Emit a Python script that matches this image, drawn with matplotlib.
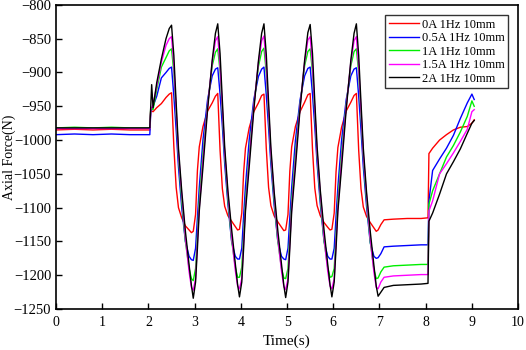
import matplotlib
matplotlib.use('Agg')
import matplotlib.pyplot as plt

plt.rcParams['font.family'] = ['Liberation Serif', 'DejaVu Serif']

# Time axis (s), shared by all five runs
time_s = [0.0, 0.4, 0.8, 1.2, 1.6, 2.03,
          2.05, 2.07, 2.10, 2.18, 2.28, 2.38, 2.45, 2.50,
          2.55, 2.60, 2.65, 2.72, 2.80, 2.88, 2.93, 2.97,
          3.02, 3.06, 3.10, 3.18, 3.28, 3.38, 3.45, 3.50,
          3.55, 3.60, 3.65, 3.72, 3.80, 3.88, 3.93, 3.97,
          4.02, 4.06, 4.10, 4.18, 4.28, 4.38, 4.45, 4.50,
          4.55, 4.60, 4.65, 4.72, 4.80, 4.88, 4.93, 4.97,
          5.02, 5.06, 5.10, 5.18, 5.28, 5.38, 5.45, 5.50,
          5.55, 5.60, 5.65, 5.72, 5.80, 5.88, 5.93, 5.97,
          6.02, 6.06, 6.10, 6.18, 6.28, 6.38, 6.45, 6.50,
          6.55, 6.60, 6.65, 6.72, 6.80, 6.88, 6.93, 6.97,
          7.03, 7.10, 7.30, 7.60, 7.90, 8.05,
          8.07, 8.15, 8.30, 8.45, 8.60, 8.75, 8.90, 9.00, 9.05]

# Axial force (N) for each current
force_0A = [-985, -984, -985, -984, -985, -985,
            -955, -957, -958, -952, -946, -937, -932, -930,
            -1010, -1070, -1100, -1115, -1127, -1133, -1137, -1135,
            -1110, -1045, -1010, -980, -957, -945, -935, -931,
            -1015, -1072, -1098, -1112, -1120, -1128, -1133, -1132,
            -1108, -1048, -1012, -982, -958, -945, -934, -932,
            -1012, -1070, -1097, -1112, -1121, -1129, -1134, -1133,
            -1110, -1046, -1010, -980, -958, -944, -933, -931,
            -1013, -1071, -1097, -1112, -1122, -1129, -1133, -1132,
            -1108, -1047, -1011, -981, -957, -944, -934, -931,
            -1015, -1072, -1099, -1113, -1122, -1130, -1135, -1133,
            -1125, -1118, -1117, -1116, -1116, -1115,
            -1020, -1012, -1000, -992, -985, -981, -980, -975, -970]

force_05A = [-992, -991, -992, -991, -992, -992,
             -958, -955, -950, -935, -908, -900, -894, -892,
             -935, -985, -1040, -1100, -1150, -1172, -1177, -1178,
             -1160, -1115, -1070, -1000, -940, -905, -895, -893,
             -932, -980, -1035, -1095, -1150, -1172, -1176, -1176,
             -1160, -1112, -1068, -1000, -940, -906, -895, -892,
             -933, -982, -1036, -1096, -1150, -1172, -1176, -1177,
             -1160, -1114, -1070, -1001, -941, -905, -894, -892,
             -932, -980, -1035, -1095, -1150, -1172, -1176, -1176,
             -1160, -1113, -1069, -1000, -940, -905, -895, -893,
             -935, -985, -1040, -1098, -1152, -1172, -1175, -1174,
             -1168, -1158, -1157, -1156, -1155, -1155,
             -1090, -1045, -1028, -1012, -993, -968, -945, -932, -940]

force_1A = [-982, -981, -982, -981, -982, -982,
            -952, -953, -955, -925, -892, -878, -868, -865,
            -900, -962, -1025, -1090, -1150, -1190, -1205, -1208,
            -1190, -1140, -1088, -1020, -948, -890, -870, -865,
            -898, -960, -1022, -1088, -1148, -1188, -1203, -1203,
            -1188, -1140, -1090, -1022, -948, -891, -869, -864,
            -900, -962, -1024, -1088, -1150, -1190, -1204, -1205,
            -1190, -1141, -1090, -1021, -948, -890, -869, -865,
            -899, -961, -1023, -1088, -1149, -1189, -1203, -1202,
            -1190, -1140, -1089, -1020, -947, -890, -869, -865,
            -900, -963, -1025, -1090, -1150, -1192, -1205, -1204,
            -1195, -1188, -1186, -1185, -1184, -1184,
            -1095, -1075, -1050, -1025, -1008, -988, -965, -942, -950]

force_15A = [-983, -983, -983, -983, -983, -983,
             -955, -952, -948, -920, -885, -860, -850, -847,
             -890, -955, -1020, -1080, -1145, -1195, -1218, -1222,
             -1205, -1150, -1100, -1030, -950, -885, -853, -847,
             -890, -953, -1018, -1080, -1143, -1193, -1216, -1220,
             -1205, -1150, -1100, -1030, -950, -886, -853, -846,
             -890, -955, -1020, -1080, -1145, -1194, -1217, -1221,
             -1205, -1151, -1100, -1031, -951, -885, -852, -847,
             -890, -954, -1019, -1080, -1144, -1194, -1216, -1220,
             -1205, -1150, -1100, -1030, -950, -885, -853, -847,
             -892, -956, -1021, -1082, -1146, -1196, -1218, -1220,
             -1210, -1203, -1201, -1200, -1199, -1199,
             -1105, -1090, -1050, -1035, -1019, -1002, -984, -958, -955]

force_2A = [-982, -982, -982, -982, -982, -982,
            -950, -918, -952, -915, -880, -850, -835, -830,
            -875, -945, -1012, -1075, -1135, -1185, -1215, -1234,
            -1210, -1160, -1105, -1040, -955, -882, -842, -828,
            -872, -942, -1010, -1075, -1132, -1183, -1214, -1232,
            -1210, -1160, -1105, -1040, -956, -883, -842, -828,
            -873, -944, -1011, -1076, -1134, -1184, -1215, -1233,
            -1210, -1160, -1106, -1041, -955, -882, -841, -829,
            -872, -943, -1010, -1075, -1133, -1184, -1214, -1232,
            -1210, -1160, -1105, -1040, -955, -882, -842, -828,
            -875, -945, -1012, -1077, -1135, -1186, -1216, -1231,
            -1225, -1218, -1215, -1214, -1213, -1212,
            -1120, -1108, -1080, -1050, -1032, -1013, -990, -975, -971]

series = [
    ('0A 1Hz 10mm', force_0A, '#ff0000'),
    ('0.5A 1Hz 10mm', force_05A, '#0000ff'),
    ('1A 1Hz 10mm', force_1A, '#00ee00'),
    ('1.5A 1Hz 10mm', force_15A, '#ff00ff'),
    ('2A 1Hz 10mm', force_2A, '#000000'),
]

fig = plt.figure(figsize=(5.26, 3.5), dpi=100)
ax = fig.add_axes([0.1065, 0.117, 0.8785, 0.869])

for label, vals, color in series:
    ax.plot(time_s, vals, color=color, lw=1.0, label=label)

ax.set_xlim(0, 10)
ax.set_ylim(-1250, -800)
ax.set_xticks(range(0, 11))
ax.set_yticks(range(-1250, -799, 50))
ax.tick_params(direction='in', length=4, width=1, top=False, right=False)
ax.tick_params(axis='x', labelsize=10, pad=5)
ax.tick_params(axis='y', labelsize=10.5, pad=3.5)
for sp in ax.spines.values():
    sp.set_linewidth(1.2)

ax.set_xlabel('Time(s)', fontsize=11, labelpad=4)
ax.set_ylabel('Axial Force(N)', fontsize=10)
ax.yaxis.set_label_coords(-0.086, 0.5)

leg = ax.legend(loc='upper right', fontsize=9, frameon=True, fancybox=False,
                edgecolor='black', handlelength=2.4, borderaxespad=0.8,
                labelspacing=0.12, handletextpad=0.2, borderpad=0.3)
leg.get_frame().set_linewidth(1.0)

fig.savefig('out.png', dpi=100, facecolor='white')
